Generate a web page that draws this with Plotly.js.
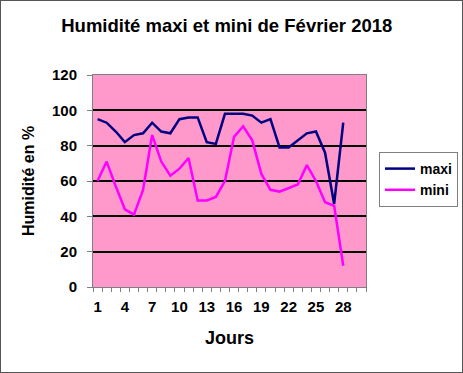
<!DOCTYPE html>
<html>
<head>
<meta charset="utf-8">
<script src="https://cdn.plot.ly/plotly-3.0.1.min.js"></script>
<style>
  html, body { margin: 0; padding: 0; background: #fff; }
  #chart { width: 461px; height: 371px; border: 1px solid #555; }
</style>
</head>
<body>
<div id="chart"></div>
<script>
// Days of February 2018 with data
const days = ['1','2','3','4','5','6','7','8','9','10','11','12','13','14','15','16','17','18','19','20','21','22','23','24','25','26','27','28'];
// Axis categories (the chart's axis keeps two empty slots after day 28)
const axisCategories = ['1','2','3','4','5','6','7','8','9','10','11','12','13','14','15','16','17','18','19','20','21','22','23','24','25','26','27','28','29','30'];
// Tick labels shown on the x axis (every third day)
const axisLabels = ['1','','','4','','','7','','','10','','','13','','','16','','','19','','','22','','','25','','','28','',''];
// Y axis ticks
const yTickValues = [0, 20, 40, 60, 80, 100, 120];
const yTickLabels = ['0', '20', '40', '60', '80', '100', '120'];
// Humidity (%)
const maxi = [95,93,88,82,86,87,93,88,87,95,96,96,82,81,98,98,98,97,93,95,79,79,83,87,88,76,47,93];
const mini = [60,71,57,44,41,55,86,71,63,67,73,49,49,51,60,85,91,83,64,55,54,56,58,69,60,48,46,12];

const font = 'Liberation Sans';
const bold = s => s ? '<b>' + s + '</b>' : '';

const traces = [
  { x: days, y: maxi, name: bold('maxi'), type: 'scatter', mode: 'lines',
    line: { color: '#000080', width: 2.5 } },
  { x: days, y: mini, name: bold('mini'), type: 'scatter', mode: 'lines',
    line: { color: '#FF00FF', width: 2.5 } }
];

const layout = {
  width: 461, height: 371,
  margin: { l: 92, r: 96, t: 74, b: 85 },
  paper_bgcolor: '#ffffff',
  plot_bgcolor: '#FF99CC',
  font: { family: font, color: '#000', size: 13 },
  title: { text: bold('Humidité maxi et mini de Février 2018'),
           font: { family: font, size: 18.5, color: '#000' },
           x: 0.49, xref: 'paper', xanchor: 'center', y: 0.935, yref: 'container', yanchor: 'middle' },
  xaxis: {
    type: 'category',
    categoryorder: 'array', categoryarray: axisCategories,
    range: [-0.5, 29.5],
    tickmode: 'array', tickvals: axisCategories, ticktext: axisLabels.map(bold),
    tickson: 'boundaries', tickangle: 0,
    ticks: 'outside', ticklen: 4, tickcolor: '#808080', tickwidth: 1,
    ticklabelstandoff: 6,
    tickfont: { family: font, size: 15, color: '#000' },
    showgrid: false, zeroline: false,
    showline: true, linecolor: '#808080', linewidth: 1, mirror: true,
    title: { text: bold('Jours'), font: { family: font, size: 18, color: '#000' }, standoff: 17 },
    fixedrange: true
  },
  yaxis: {
    range: [0, 120],
    tickmode: 'array', tickvals: yTickValues, ticktext: yTickLabels.map(bold),
    ticks: 'outside', ticklen: 5, tickcolor: '#808080', tickwidth: 1,
    ticklabelstandoff: 7,
    tickfont: { family: font, size: 15, color: '#000' },
    showgrid: true, gridcolor: '#000000', gridwidth: 2,
    zeroline: false,
    showline: true, linecolor: '#808080', linewidth: 1, mirror: true,
    title: { text: bold('Humidité en %'), font: { family: font, size: 16, color: '#000' }, standoff: 13 },
    fixedrange: true
  },
  showlegend: true,
  legend: {
    x: 378/461, xanchor: 'left', xref: 'container',
    y: 1 - 151/371, yanchor: 'top', yref: 'container',
    bgcolor: '#ffffff', bordercolor: '#808080', borderwidth: 1,
    font: { family: font, size: 14, color: '#000' },
    itemwidth: 30
  }
};

Plotly.newPlot('chart', traces, layout, { displayModeBar: false, staticPlot: true });
</script>
</body>
</html>
